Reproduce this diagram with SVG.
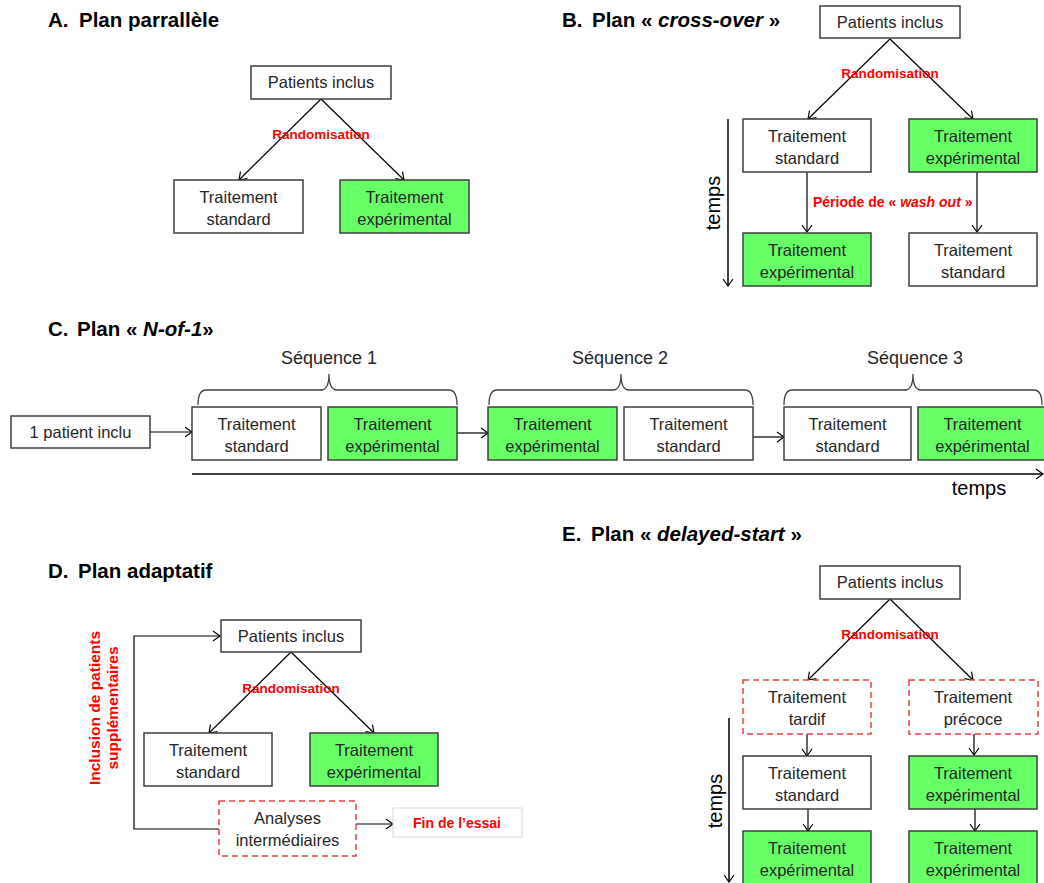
<svg xmlns="http://www.w3.org/2000/svg" width="1044" height="883" viewBox="0 0 1044 883">
<style>
.box{fill:#fff;stroke:#3f3f3f;stroke-width:1.5}
.green{fill:#66FF66;stroke:#3f3f3f;stroke-width:1.5}
.dash{fill:#fff;stroke:#E8403F;stroke-width:1.5;stroke-dasharray:6 4}
.fin{fill:#fff;stroke:#d9d9d9;stroke-width:1}
.t{font-family:"Liberation Sans",Arial,sans-serif;font-size:16.5px;fill:#262626;text-anchor:middle}
.title{font-family:"Liberation Sans",Arial,sans-serif;font-size:20.5px;font-weight:bold;fill:#000}
.red{font-family:"Liberation Sans",Arial,sans-serif;font-size:13.5px;font-weight:bold;fill:#FF0000;text-anchor:middle}
.tm{font-family:"Liberation Sans",Arial,sans-serif;font-size:20px;fill:#000;text-anchor:middle}
.seq{font-family:"Liberation Sans",Arial,sans-serif;font-size:18px;fill:#262626;text-anchor:middle}
.ln{stroke:#000;stroke-width:1.2;fill:none}
.ax{stroke:#000;stroke-width:1.5;fill:none}
.brace{stroke:#404040;stroke-width:1.3;fill:none}
.arr{marker-end:url(#ah)}
</style>
<defs>
<marker id="ah" viewBox="0 0 10 12" refX="9" refY="6" markerWidth="10" markerHeight="12" orient="auto" markerUnits="userSpaceOnUse">
<path d="M2,1 L9,6 L2,11" fill="none" stroke="#000" stroke-width="1.2"/>
</marker>
</defs>

<!-- Titles -->
<g id="titles">
<text class="title" x="48" y="27">A.<tspan x="79">Plan parrallèle</tspan></text>
<text class="title" x="562" y="27">B.<tspan x="592">Plan « </tspan><tspan font-style="italic">cross-over</tspan><tspan> »</tspan></text>
<text class="title" x="48" y="336">C.<tspan x="77">Plan « </tspan><tspan font-style="italic">N-of-1</tspan><tspan>»</tspan></text>
<text class="title" x="48" y="578">D.<tspan x="78">Plan adaptatif</tspan></text>
<text class="title" x="562" y="541">E.<tspan x="591">Plan « </tspan><tspan font-style="italic">delayed-start</tspan><tspan> »</tspan></text>
</g>

<!-- Connectors -->
<g id="connectors">
<!-- A -->
<path class="ln arr" d="M321,99 L239,180"/>
<path class="ln arr" d="M321,99 L404,180"/>
<!-- B -->
<path class="ln arr" d="M890,39 L808,119"/>
<path class="ln arr" d="M890,39 L973,119"/>
<path class="ln arr" d="M807,172 L807,232"/>
<path class="ln arr" d="M977,172 L977,232"/>
<path class="ax arr" d="M728,119 L728,286"/>
<!-- C -->
<path class="ln arr" d="M150,432 L192,432"/>
<path class="ln arr" d="M457,433 L488,433"/>
<path class="ln arr" d="M753,437 L784,437"/>
<path class="ax arr" d="M192,474 L1043,474"/>
<path class="brace" d="M198,405 Q198,390 206,390 L321,390 Q329,390 329,374 Q329,390 337,390 L449,390 Q457,390 457,405"/>
<path class="brace" d="M489,405 Q489,390 497,390 L613,390 Q621,390 621,374 Q621,390 629,390 L745,390 Q753,390 753,405"/>
<path class="brace" d="M784,405 Q784,390 792,390 L905,390 Q913,390 913,374 Q913,390 921,390 L1034,390 Q1042,390 1042,405"/>
<!-- D -->
<path class="ln arr" d="M291,652 L209,733"/>
<path class="ln arr" d="M291,652 L374,733"/>
<path class="ln arr" d="M219,829 L134,829 L134,636 L220,636"/>
<path class="ln arr" d="M356,824 L393,824"/>
<!-- E -->
<path class="ln arr" d="M890,599 L808,680"/>
<path class="ln arr" d="M890,599 L973,680"/>
<path class="ln arr" d="M807,734 L807,756"/>
<path class="ln arr" d="M974,734 L974,755"/>
<path class="ln arr" d="M808,809 L808,831"/>
<path class="ln arr" d="M975,809 L975,831"/>
<path class="ax arr" d="M729,718 L729,882"/>
</g>

<!-- Section A -->
<g id="A-patients"><rect class="box" x="251" y="66" width="140" height="33"/><text class="t" x="321" y="88">Patients inclus</text></g>
<g id="A-rando"><text class="red" x="321" y="139">Randomisation</text></g>
<g id="A-std"><rect class="box" x="174" y="180" width="129" height="53"/><text class="t" x="238.5" y="203">Traitement</text><text class="t" x="238.5" y="225">standard</text></g>
<g id="A-exp"><rect class="green" x="340" y="180" width="129" height="53"/><text class="t" x="404.5" y="203">Traitement</text><text class="t" x="404.5" y="225">expérimental</text></g>

<!-- Section B -->
<g id="B-patients"><rect class="box" x="820" y="6" width="140" height="32"/><text class="t" x="890" y="28">Patients inclus</text></g>
<g id="B-rando"><text class="red" x="890" y="78">Randomisation</text></g>
<g id="B-std1"><rect class="box" x="743" y="119" width="128" height="53"/><text class="t" x="807" y="142">Traitement</text><text class="t" x="807" y="164">standard</text></g>
<g id="B-exp1"><rect class="green" x="909" y="119" width="128" height="53"/><text class="t" x="973" y="142">Traitement</text><text class="t" x="973" y="164">expérimental</text></g>
<g id="B-washout"><text class="red" x="813" y="207" style="text-anchor:start;font-size:14px">Période de « <tspan font-style="italic">wash out</tspan> »</text></g>
<g id="B-exp2"><rect class="green" x="743" y="233" width="128" height="53"/><text class="t" x="807" y="256">Traitement</text><text class="t" x="807" y="278">expérimental</text></g>
<g id="B-std2"><rect class="box" x="909" y="233" width="128" height="53"/><text class="t" x="973" y="256">Traitement</text><text class="t" x="973" y="278">standard</text></g>
<g id="B-temps"><text class="tm" transform="translate(720,203) rotate(-90)">temps</text></g>

<!-- Section C -->
<g id="C-seq"><text class="seq" x="329" y="364">Séquence 1</text><text class="seq" x="620" y="364">Séquence 2</text><text class="seq" x="915" y="364">Séquence 3</text></g>
<g id="C-patient"><rect class="box" x="11" y="416" width="139" height="32"/><text class="t" x="80.5" y="438">1 patient inclu</text></g>
<g id="C-b1"><rect class="box" x="192" y="407" width="129" height="53"/><text class="t" x="256.5" y="430">Traitement</text><text class="t" x="256.5" y="452">standard</text></g>
<g id="C-b2"><rect class="green" x="328" y="407" width="129" height="53"/><text class="t" x="392.5" y="430">Traitement</text><text class="t" x="392.5" y="452">expérimental</text></g>
<g id="C-b3"><rect class="green" x="488" y="407" width="129" height="53"/><text class="t" x="552.5" y="430">Traitement</text><text class="t" x="552.5" y="452">expérimental</text></g>
<g id="C-b4"><rect class="box" x="624" y="407" width="129" height="53"/><text class="t" x="688.5" y="430">Traitement</text><text class="t" x="688.5" y="452">standard</text></g>
<g id="C-b5"><rect class="box" x="784" y="407" width="127" height="53"/><text class="t" x="847.5" y="430">Traitement</text><text class="t" x="847.5" y="452">standard</text></g>
<g id="C-b6"><rect class="green" x="918" y="407" width="129" height="53"/><text class="t" x="982.5" y="430">Traitement</text><text class="t" x="982.5" y="452">expérimental</text></g>
<g id="C-temps"><text class="tm" x="979" y="495">temps</text></g>

<!-- Section D -->
<g id="D-patients"><rect class="box" x="221" y="620" width="140" height="32"/><text class="t" x="291" y="642">Patients inclus</text></g>
<g id="D-rando"><text class="red" x="291" y="693">Randomisation</text></g>
<g id="D-std"><rect class="box" x="144" y="733" width="128" height="53"/><text class="t" x="208" y="756">Traitement</text><text class="t" x="208" y="778">standard</text></g>
<g id="D-exp"><rect class="green" x="310" y="733" width="128" height="53"/><text class="t" x="374" y="756">Traitement</text><text class="t" x="374" y="778">expérimental</text></g>
<g id="D-analyses"><rect class="dash" x="219" y="801" width="137" height="55"/><text class="t" x="287.5" y="824">Analyses</text><text class="t" x="287.5" y="846">intermédiaires</text></g>
<g id="D-fin"><rect class="fin" x="393" y="808" width="129" height="29"/><text class="red" x="457" y="828" style="font-size:14px">Fin de l’essai</text></g>
<g id="D-inclusion"><text class="red" style="font-size:15.5px" transform="translate(100,708) rotate(-90)">Inclusion de patients</text><text class="red" style="font-size:15.5px" transform="translate(118,708) rotate(-90)">supplémentaires</text></g>

<!-- Section E -->
<g id="E-patients"><rect class="box" x="820" y="566" width="140" height="33"/><text class="t" x="890" y="588">Patients inclus</text></g>
<g id="E-rando"><text class="red" x="890" y="639">Randomisation</text></g>
<g id="E-tardif"><rect class="dash" x="743" y="680" width="128" height="54"/><text class="t" x="807" y="703">Traitement</text><text class="t" x="807" y="725">tardif</text></g>
<g id="E-precoce"><rect class="dash" x="909" y="680" width="129" height="54"/><text class="t" x="973" y="703">Traitement</text><text class="t" x="973" y="725">précoce</text></g>
<g id="E-std"><rect class="box" x="743" y="756" width="128" height="53"/><text class="t" x="807" y="779">Traitement</text><text class="t" x="807" y="801">standard</text></g>
<g id="E-exp1"><rect class="green" x="909" y="756" width="128" height="53"/><text class="t" x="973" y="779">Traitement</text><text class="t" x="973" y="801">expérimental</text></g>
<g id="E-exp2"><rect class="green" x="743" y="831" width="128" height="60"/><text class="t" x="807" y="854">Traitement</text><text class="t" x="807" y="876">expérimental</text></g>
<g id="E-exp3"><rect class="green" x="909" y="831" width="128" height="60"/><text class="t" x="973" y="854">Traitement</text><text class="t" x="973" y="876">expérimental</text></g>
<g id="E-temps"><text class="tm" transform="translate(722,801) rotate(-90)">temps</text></g>
</svg>
